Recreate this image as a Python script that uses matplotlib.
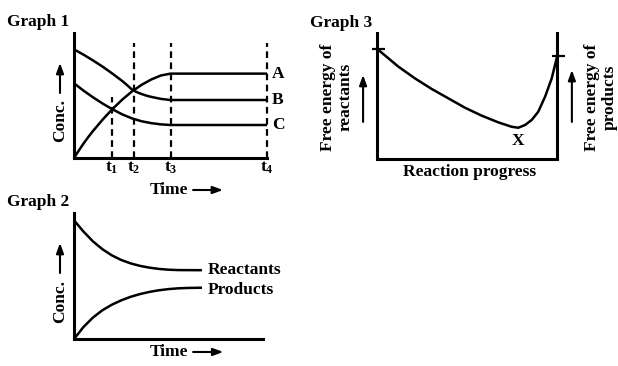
import matplotlib
matplotlib.use('Agg')
import matplotlib.pyplot as plt

plt.rcParams['font.family'] = ['Liberation Serif', 'DejaVu Serif']
plt.rcParams['font.weight'] = 'bold'
plt.rcParams['mathtext.fontset'] = 'custom'
plt.rcParams['mathtext.rm'] = 'Liberation Serif:bold'
plt.rcParams['mathtext.it'] = 'Liberation Serif:bold'
plt.rcParams['mathtext.bf'] = 'Liberation Serif:bold'

FS = 12.5
LW_AX = 2.2
LW = 1.8

# Graph 1: concentrations of A, B, C against time
t_a = [0, 0.25, 0.5, 0.75, 1.0, 1.5, 2.0, 2.5, 3.0, 3.5, 4.0, 4.5, 5.0, 10]
conc_a = [0, 0.06, 0.117, 0.17, 0.219, 0.31, 0.393, 0.467, 0.532, 0.585, 0.628, 0.66, 0.675, 0.675]
t_b = [0, 0.5, 1.0, 1.5, 2.0, 2.5, 2.75, 3.0, 3.25, 3.5, 3.75, 4.0, 4.5, 5.0, 10]
conc_b = [0.869, 0.826, 0.779, 0.729, 0.674, 0.616, 0.583, 0.548, 0.527, 0.512, 0.499, 0.489, 0.473, 0.464, 0.464]
t_c = [0, 0.5, 1.0, 1.5, 2.0, 2.5, 3.0, 3.5, 4.0, 4.5, 5.0, 10]
conc_c = [0.598, 0.538, 0.484, 0.434, 0.389, 0.349, 0.317, 0.294, 0.279, 0.269, 0.264, 0.264]
t_marks = [1.95, 3.1, 5.0, 10]
t_labels = ['1', '2', '3', '4']
t_tops = [0.488, 0.92, 0.92, 0.92]
curve_labels = ['A', 'B', 'C']

# Graph 2: reactants and products
t_r = [0, 0.5, 1.0, 1.5, 2.0, 2.5, 3.0, 3.5, 4.0, 4.5, 5.0, 5.5, 6.77]
conc_r = [0.942, 0.853, 0.775, 0.713, 0.664, 0.627, 0.600, 0.580, 0.566, 0.556, 0.550, 0.547, 0.546]
t_p = [0, 0.5, 1.0, 1.5, 2.0, 2.5, 3.0, 3.5, 4.0, 4.5, 5.0, 5.5, 6.0, 6.77]
conc_p = [0, 0.095, 0.170, 0.228, 0.272, 0.307, 0.335, 0.357, 0.374, 0.387, 0.396, 0.402, 0.405, 0.407]

# Graph 3: free energy along reaction progress
prog = [0, 0.117, 0.209, 0.302, 0.394, 0.487, 0.58, 0.672, 0.746, 0.783,
        0.821, 0.858, 0.894, 0.932, 0.969, 1.0]
energy = [0.873, 0.733, 0.64, 0.556, 0.482, 0.407, 0.344, 0.291, 0.256, 0.248,
          0.27, 0.31, 0.375, 0.494, 0.64, 0.82]
g_react = 0.873
g_prod = 0.82

W, H = 618, 366
fig = plt.figure(figsize=(W / 100, H / 100), dpi=100)


def px_axes(x0, y0, x1, y1):
    return fig.add_axes([x0 / W, 1 - y1 / H, (x1 - x0) / W, (y1 - y0) / H])


def style(ax, spines):
    for s in ['left', 'right', 'top', 'bottom']:
        ax.spines[s].set_visible(s in spines)
        ax.spines[s].set_linewidth(LW_AX)
        ax.spines[s].set_capstyle('projecting')
    ax.set_xticks([])
    ax.set_yticks([])
    ax.patch.set_alpha(0)


def arrow(ax, p0, p1):
    ax.annotate('', xy=p1, xytext=p0, xycoords='axes fraction',
                arrowprops=dict(arrowstyle='-|>,head_length=0.6,head_width=0.22',
                                color='black', lw=1.5, shrinkA=0, shrinkB=0),
                annotation_clip=False)


# ---- Graph 1 ----
ax1 = px_axes(74, 33, 267, 158)
style(ax1, ['left', 'bottom'])
ax1.set_xlim(0, 10)
ax1.set_ylim(0, 1)
kw = dict(color='black', lw=LW, clip_on=False, solid_capstyle='butt', solid_joinstyle='round')
ax1.plot(t_a, conc_a, **kw)
ax1.plot(t_b, conc_b, **kw)
ax1.plot(t_c, conc_c, **kw)
ax1.vlines(t_marks, 0, t_tops, colors='black', lw=1.6,
           linestyles=(0, (3, 2)), clip_on=False)
for t, lab in zip(t_marks, t_labels):
    ax1.text(t, -0.08, r'$\mathrm{t}_{%s}$' % lab, ha='center', va='center', fontsize=FS)
for lab, y in zip(curve_labels, [conc_a[-1], conc_b[-1], conc_c[-1]]):
    ax1.text(10.57, y, lab, ha='center', va='center', fontsize=FS)
ax1.text(0.394, -0.256, 'Time', transform=ax1.transAxes, ha='left', va='center', fontsize=FS)
arrow(ax1, (0.617, -0.256), (0.772, -0.256))
ax1.text(-0.0725, 0.296, 'Conc.', transform=ax1.transAxes, rotation=90,
         ha='center', va='center', fontsize=FS)
arrow(ax1, (-0.0725, 0.52), (-0.0725, 0.76))
fig.text(7 / W, 1 - 22 / H, 'Graph 1', ha='left', va='center', fontsize=FS)

# ---- Graph 2 ----
ax2 = px_axes(74, 213, 263, 339)
style(ax2, ['left', 'bottom'])
ax2.set_xlim(0, 10)
ax2.set_ylim(0, 1)
ax2.plot(t_r, conc_r, **kw)
ax2.plot(t_p, conc_p, **kw)
ax2.text(7.09, conc_r[-1], 'Reactants', ha='left', va='center', fontsize=FS)
ax2.text(7.09, conc_p[-1] - 0.02, 'Products', ha='left', va='center', fontsize=FS)
ax2.text(0.402, -0.103, 'Time', transform=ax2.transAxes, ha='left', va='center', fontsize=FS)
arrow(ax2, (0.63, -0.103), (0.79, -0.103))
ax2.text(-0.0741, 0.30, 'Conc.', transform=ax2.transAxes, rotation=90,
         ha='center', va='center', fontsize=FS)
arrow(ax2, (-0.0741, 0.524), (-0.0741, 0.762))
fig.text(7 / W, 1 - 202 / H, 'Graph 2', ha='left', va='center', fontsize=FS)

# ---- Graph 3 ----
ax3 = px_axes(377.3, 33, 557.3, 159)
style(ax3, ['left', 'right', 'bottom'])
ax3.set_xlim(0, 1)
ax3.set_ylim(0, 1)
ax3.plot(prog, energy, **kw)
ax3.hlines([g_react, g_prod], [-0.03, 0.97], [0.045, 1.04], colors='black', lw=1.6, clip_on=False)
ax3.text(0.78, 0.143, 'X', ha='center', va='center', fontsize=FS)
ax3.text(0.515, -0.103, 'Reaction progress', transform=ax3.transAxes,
         ha='center', va='center', fontsize=FS)
ax3.text(-0.224, 0.492, 'Free energy of\nreactants', transform=ax3.transAxes, rotation=90,
         ha='center', va='center', fontsize=FS, multialignment='center', linespacing=1.15)
arrow(ax3, (-0.079, 0.294), (-0.079, 0.667))
ax3.text(1.24, 0.492, 'Free energy of\nproducts', transform=ax3.transAxes, rotation=90,
         ha='center', va='center', fontsize=FS, multialignment='center', linespacing=1.15)
arrow(ax3, (1.081, 0.294), (1.081, 0.706))
fig.text(310 / W, 1 - 23 / H, 'Graph 3', ha='left', va='center', fontsize=FS)

fig.savefig('out.png', dpi=100)
